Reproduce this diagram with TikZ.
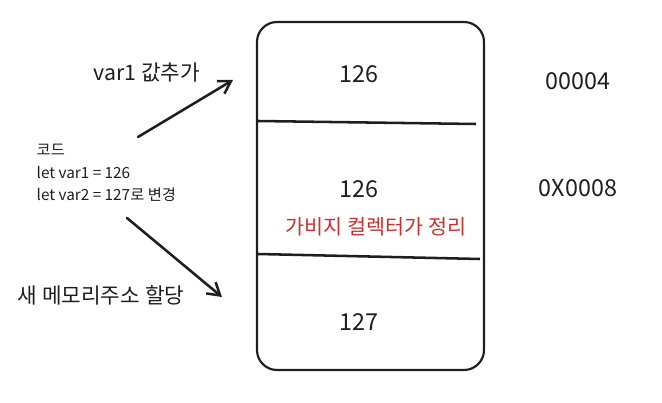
\documentclass[tikz,border=0pt]{standalone}
\usepackage{fontspec}
\setmainfont{Noto Sans CJK KR}
\usetikzlibrary{arrows.meta, positioning}
\definecolor{gcRed}{RGB}{201, 48, 48}
\definecolor{ink}{RGB}{30, 30, 30}

\begin{document}
\begin{tikzpicture}[x=0.75pt, y=-0.75pt, >={Straight Barb[length=9pt, width=11pt]},
  value/.style={font=\fontsize{17.5}{20}\selectfont, text=ink},
  addr/.style={font=\fontsize{17.5}{20}\selectfont, text=ink},
  label/.style={font=\fontsize{16}{19}\selectfont, text=ink},
  flow/.style={->, line width=1.9pt, ink, line cap=round}]
  \useasboundingbox (0, 0) rectangle (662, 403);

  % memory block
  \draw[line width=1.6pt, ink, rounded corners=15pt] (257, 22) rectangle (484, 370);
  \draw[line width=1.9pt, ink] (258, 121) -- (476, 124);
  \draw[line width=1.9pt, ink] (258, 254) -- (480, 259);

  \node[value] (v1) at (359, 74) {126};
  \node[value] (v2) at (359, 189) {126};
  \node[font=\fontsize{15.5}{18}\selectfont, text=gcRed] (gc) at (376, 227) {가비지 컬렉터가 정리};
  \node[value] (v3) at (359, 322) {127};

  \node[addr] (a1) at (578, 81) {00004};
  \node[addr] (a2) at (578, 188) {0X0008};

  % code and labels
  \node[font=\fontsize{11.5}{17}\selectfont, text=ink, align=left, anchor=west] (code) at (32, 173)
    {코드\\let var1 = 126\\let var2 = 127로 변경};
  \node[label] (add) at (147, 73) {var1 값추가};
  \node[label] (alloc) at (101, 295) {새 메모리주소 할당};

  \coordinate (upS) at (138, 137);
  \coordinate (upE) at (233, 80);
  \coordinate (dnS) at (127, 218);
  \coordinate (dnE) at (222, 297);
  \draw[flow] (upS) -- (upE);
  \draw[flow] (dnS) -- (dnE);
\end{tikzpicture}
\end{document}
